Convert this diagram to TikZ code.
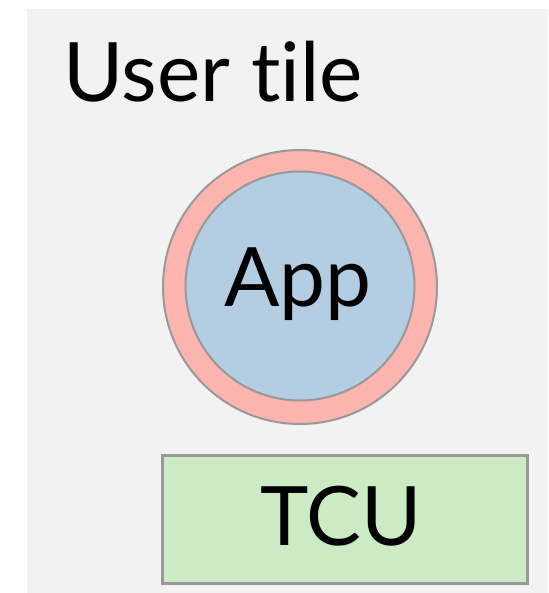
\documentclass[tikz,border=0pt]{standalone}
\usepackage{fontspec}
\setmainfont{Lato}[Ligatures={NoCommon}]
\definecolor{bggrey}{HTML}{F2F2F2}
\definecolor{ringpink}{HTML}{FBB4AE}
\definecolor{appblue}{HTML}{B3CDE3}
\definecolor{tcugreen}{HTML}{CCEBC5}
\definecolor{edgegrey}{HTML}{999999}
\tikzset{
  bigtext/.style={font=\fontsize{82}{90}\selectfont, inner sep=0pt, text=black},
  ringcirc/.style={circle, draw=edgegrey, line width=2pt, fill=ringpink, minimum size=274pt, inner sep=0pt},
  appcirc/.style={circle, draw=edgegrey, line width=2pt, fill=appblue, minimum size=229pt, inner sep=0pt},
  tcubox/.style={rectangle, draw=edgegrey, line width=3pt, fill=tcugreen, minimum width=365pt, minimum height=128pt, inner sep=0pt}
}
\begin{document}
\begin{tikzpicture}[x=1pt,y=-1pt]
  \useasboundingbox (0,0) rectangle (548,593);
  \fill[bggrey] (27,9) rectangle (548,593);
  \node[bigtext, anchor=base west] (title) at (63,102) {User tile};
  \node[ringcirc] (ring) at (300,287) {};
  \node[appcirc] (app) at (300,286) {};
  \node[bigtext, anchor=base] (applabel) at (298,306) {App};
  \node[tcubox] (tcu) at (344.5,519) {};
  \node[bigtext, anchor=base] (tculabel) at (341,545) {TCU};
\end{tikzpicture}
\end{document}
